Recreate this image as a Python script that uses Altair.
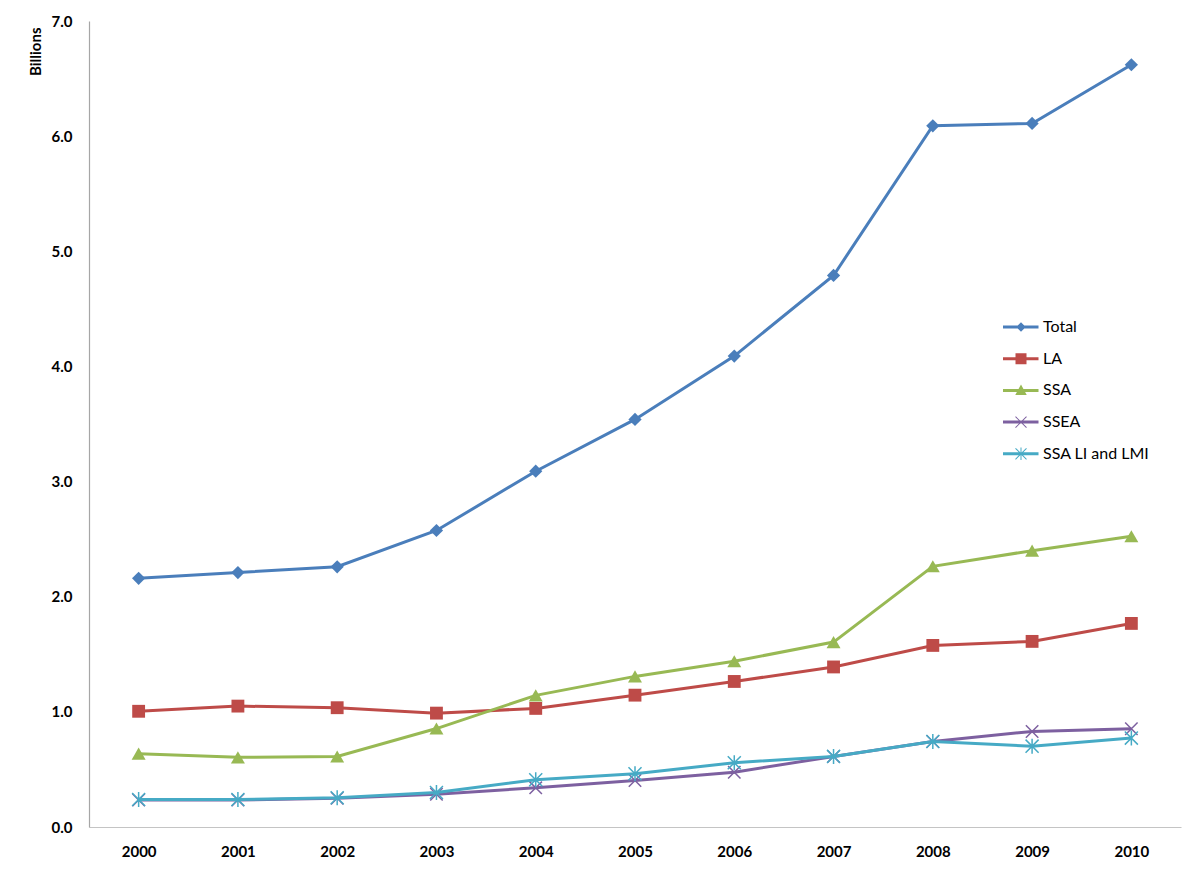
import altair as alt
import pandas as pd

# ---------------- data ----------------
years = ["2000", "2001", "2002", "2003", "2004", "2005", "2006", "2007", "2008", "2009", "2010"]
series_names = ["Total", "LA", "SSA", "SSEA", "SSA LI and LMI"]
total = [2.16, 2.21, 2.26, 2.575, 3.09, 3.54, 4.09, 4.79, 6.09, 6.11, 6.62]
la = [1.005, 1.05, 1.036, 0.989, 1.03, 1.145, 1.264, 1.39, 1.577, 1.612, 1.768]
ssa = [0.637, 0.605, 0.612, 0.855, 1.143, 1.308, 1.44, 1.606, 2.264, 2.40, 2.525]
ssea = [0.235, 0.235, 0.25, 0.285, 0.34, 0.404, 0.476, 0.613, 0.743, 0.83, 0.853]
ssa_li_lmi = [0.239, 0.239, 0.254, 0.30, 0.41, 0.462, 0.558, 0.613, 0.743, 0.702, 0.772]
y_ticks = [0, 1, 2, 3, 4, 5, 6, 7]

series_values = [total, la, ssa, ssea, ssa_li_lmi]
colors = ["#4A7EBB", "#BE4B48", "#98B954", "#7D60A0", "#46AAC5"]

rows = []
for name, vals in zip(series_names, series_values):
    for yr, v in zip(years, vals):
        rows.append({"Year": yr, "Value": v, "Series": name})
df = pd.DataFrame(rows)

# ---------------- marker shapes ----------------
X_PATH = "M-1,-1L1,1M-1,1L1,-1"
STAR_PATH = "M-1,-1L1,1M-1,1L1,-1M0,-1.15L0,1.15"
marker_specs = [
    dict(shape="diamond", filled=True, size=175),
    dict(shape="square", filled=True, size=165),
    dict(shape="triangle-up", filled=True, size=195),
    dict(shape=X_PATH, filled=False, size=155, strokeWidth=1.5),
    dict(shape=STAR_PATH, filled=False, size=170, strokeWidth=1.5),
]


def poly(pts):
    area = sum(x1 * y2 - x2 * y1 for (x1, y1), (x2, y2) in zip(pts, pts[1:] + pts[:1]))
    if area < 0:
        pts = pts[::-1]
    return "M" + "L".join(f"{x:.3f},{y:.3f}" for x, y in pts) + "Z"


def seg(x1, y1, x2, y2, t):
    dx, dy = x2 - x1, y2 - y1
    ln = (dx * dx + dy * dy) ** 0.5
    nx, ny = -dy / ln * t, dx / ln * t
    return poly([(x1 + nx, y1 + ny), (x2 + nx, y2 + ny), (x2 - nx, y2 - ny), (x1 - nx, y1 - ny)])


line_seg = seg(-3.6, 0, 3.5, 0, 0.3)
legend_paths = [
    line_seg + poly([(-0.95, 0), (0, -0.95), (0.95, 0), (0, 0.95)]),
    line_seg + poly([(-1.1, -1.1), (1.1, -1.1), (1.1, 1.1), (-1.1, 1.1)]),
    line_seg + poly([(0, -1.2), (1.15, 0.9), (-1.15, 0.9)]),
    line_seg + seg(-1.1, -1.1, 1.1, 1.1, 0.1) + seg(-1.1, 1.1, 1.1, -1.1, 0.1),
    line_seg + seg(-1.1, -1.1, 1.1, 1.1, 0.1) + seg(-1.1, 1.1, 1.1, -1.1, 0.1)
    + seg(0, -1.25, 0, 1.25, 0.1),
]

FONT = "Lato"

x_enc = alt.X(
    "Year:O",
    scale=alt.Scale(domain=years, type="point", padding=0.5),
    axis=alt.Axis(
        title=None, labelAngle=0, ticks=False, grid=False,
        domainColor="#C4C4C4", domainWidth=1.2,
        labelFont=FONT, labelFontWeight="bold", labelFontSize=15,
        labelColor="black", labelPadding=17,
    ),
)
y_enc = alt.Y(
    "Value:Q",
    scale=alt.Scale(domain=[0, 7], nice=False, zero=True),
    axis=alt.Axis(
        values=y_ticks, format=".1f", grid=False, ticks=False,
        domainColor="#A6A6A6", domainWidth=1.2,
        labelFont=FONT, labelFontWeight="bold", labelFontSize=15,
        labelColor="black", labelPadding=17,
        title="Billions", titleFont=FONT, titleFontWeight="bold", titleFontSize=15,
        titleColor="black", titleAngle=270, titleX=-54, titleY=6,
        titleAlign="right", titleBaseline="middle",
    ),
)

base = alt.Chart(df).encode(x=x_enc, y=y_enc)

layers = []
for name, col, spec in zip(series_names, colors, marker_specs):
    sub = base.transform_filter(alt.datum.Series == name)
    layers.append(sub.mark_line(color=col, strokeWidth=3))
    layers.append(sub.mark_point(color=col, opacity=1, **spec))

leg = alt.Legend(
    orient="none", legendX=924, legendY=298, title=None,
    labelFont=FONT, labelFontSize=16, labelColor="black",
    symbolSize=100, symbolStrokeWidth=0, symbolOpacity=1,
    labelOffset=14, rowPadding=15.7, padding=0,
)
legend_layer = (
    alt.Chart(df)
    .transform_filter("false")
    .mark_point(filled=True, opacity=1, size=100)
    .encode(
        x=x_enc,
        y=y_enc,
        color=alt.Color("Series:N", scale=alt.Scale(domain=series_names, range=colors), legend=leg),
        shape=alt.Shape("Series:N", scale=alt.Scale(domain=series_names, range=legend_paths), legend=leg),
    )
)
layers.append(legend_layer)

chart = (
    alt.layer(*layers)
    .properties(
        width=1092,
        height=806,
        autosize=alt.AutoSizeParams(type="none"),
        padding={"left": 81, "top": 13, "right": 10, "bottom": 40},
        background="white",
    )
    .configure_view(stroke=None)
)

chart.save("out.html", embed_options={"renderer": "svg", "actions": False})
